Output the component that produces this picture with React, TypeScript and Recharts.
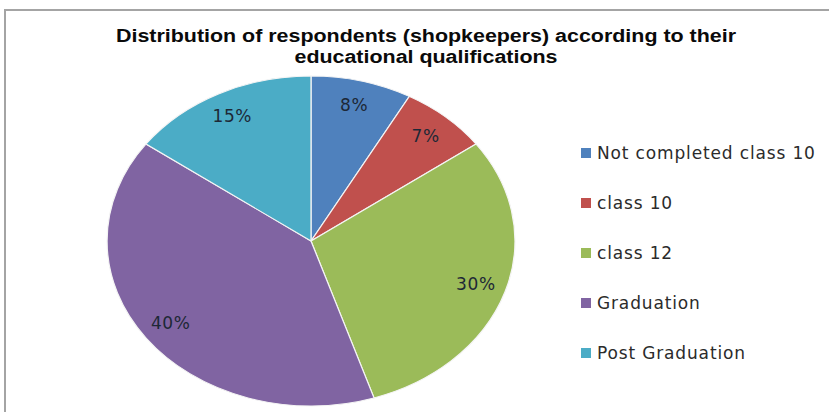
import React from 'react';
import { PieChart, Pie, Cell, Legend } from 'recharts';

const categories = ['Not completed class 10', 'class 10', 'class 12', 'Graduation', 'Post Graduation'];
const shares = [8, 7, 30, 40, 15];
const colors = ['#4F81BD', '#C0504D', '#9BBB59', '#8064A2', '#4BACC6'];

const titleLines = [
  'Distribution of respondents (shopkeepers) according to their',
  'educational qualifications',
];

const data = categories.map((name, i) => ({ name, value: shares[i] }));

// the original picture is stretched sideways, so the pie is an ellipse
const CX = 311;
const CY = 241;
const RY = 165;
const MARGIN = 5;
const STRETCH = 1.236;
const RAD = Math.PI / 180;

const renderLabel = (props: any) => {
  const { cx, cy, midAngle, outerRadius, value } = props;
  const r = outerRadius * 0.85;
  const x = cx + r * STRETCH * Math.cos(-midAngle * RAD);
  const y = cy + r * Math.sin(-midAngle * RAD);
  return (
    <text
      x={x}
      y={y}
      fill="#1d2836"
      textAnchor="middle"
      dominantBaseline="central"
      fontFamily="DejaVu Sans"
      fontSize={17}
      letterSpacing={0.6}
    >
      {`${value}%`}
    </text>
  );
};

const renderLegend = () => (
  <ul style={{ listStyle: 'none', margin: 0, padding: 0 }}>
    {categories.map((name, i) => (
      <li
        key={name}
        style={{ height: 50, display: 'flex', alignItems: 'center', fontFamily: 'DejaVu Sans', fontSize: 17, letterSpacing: 0.85, color: '#2b2b2b' }}
      >
        <span style={{ display: 'inline-block', width: 10, height: 10, background: colors[i], marginRight: 6 }} />
        {name}
      </li>
    ))}
  </ul>
);

const App = () => {
  return (
    <div style={{ position: 'absolute', left: 0, top: 0, width: 829, height: 412, overflow: 'hidden', background: '#fff' }}>
      <style>{`
        .recharts-pie-sector {
          transform-box: view-box;
          transform-origin: ${CX}px ${CY}px;
          transform: scaleX(${STRETCH});
        }
      `}</style>
      <div style={{ position: 'absolute', left: 4, top: 9, width: 900, height: 500, border: '2px solid #a4a4a4', boxSizing: 'border-box' }} />
      <div
        style={{
          position: 'absolute', left: 0, top: 26, width: 852, textAlign: 'center',
          fontFamily: '"Liberation Sans", Arial, sans-serif', fontWeight: 'bold', fontSize: 18, lineHeight: '21px', color: '#0a0a0a',
          transform: 'scaleX(1.19)', transformOrigin: '426px 0',
        }}
      >
        {titleLines.map((t) => (
          <div key={t}>{t}</div>
        ))}
      </div>
      <div style={{ position: 'absolute', left: 0, top: 0 }}>
        <PieChart width={829} height={412} margin={{ top: MARGIN, right: MARGIN, bottom: MARGIN, left: MARGIN }}>
          <Pie
            data={data}
            dataKey="value"
            nameKey="name"
            cx={CX - MARGIN}
            cy={CY - MARGIN}
            outerRadius={RY}
            startAngle={90}
            endAngle={-270}
            stroke="#f4f4f4"
            strokeWidth={1}
            label={renderLabel}
            labelLine={false}
            isAnimationActive={false}
          >
            {data.map((d, i) => (
              <Cell key={d.name} fill={colors[i]} />
            ))}
          </Pie>
          <Legend
            layout="vertical"
            align="right"
            verticalAlign="top"
            content={renderLegend}
            wrapperStyle={{ left: 581, top: 128, width: 248 }}
          />
        </PieChart>
      </div>
    </div>
  );
};

export default App;
